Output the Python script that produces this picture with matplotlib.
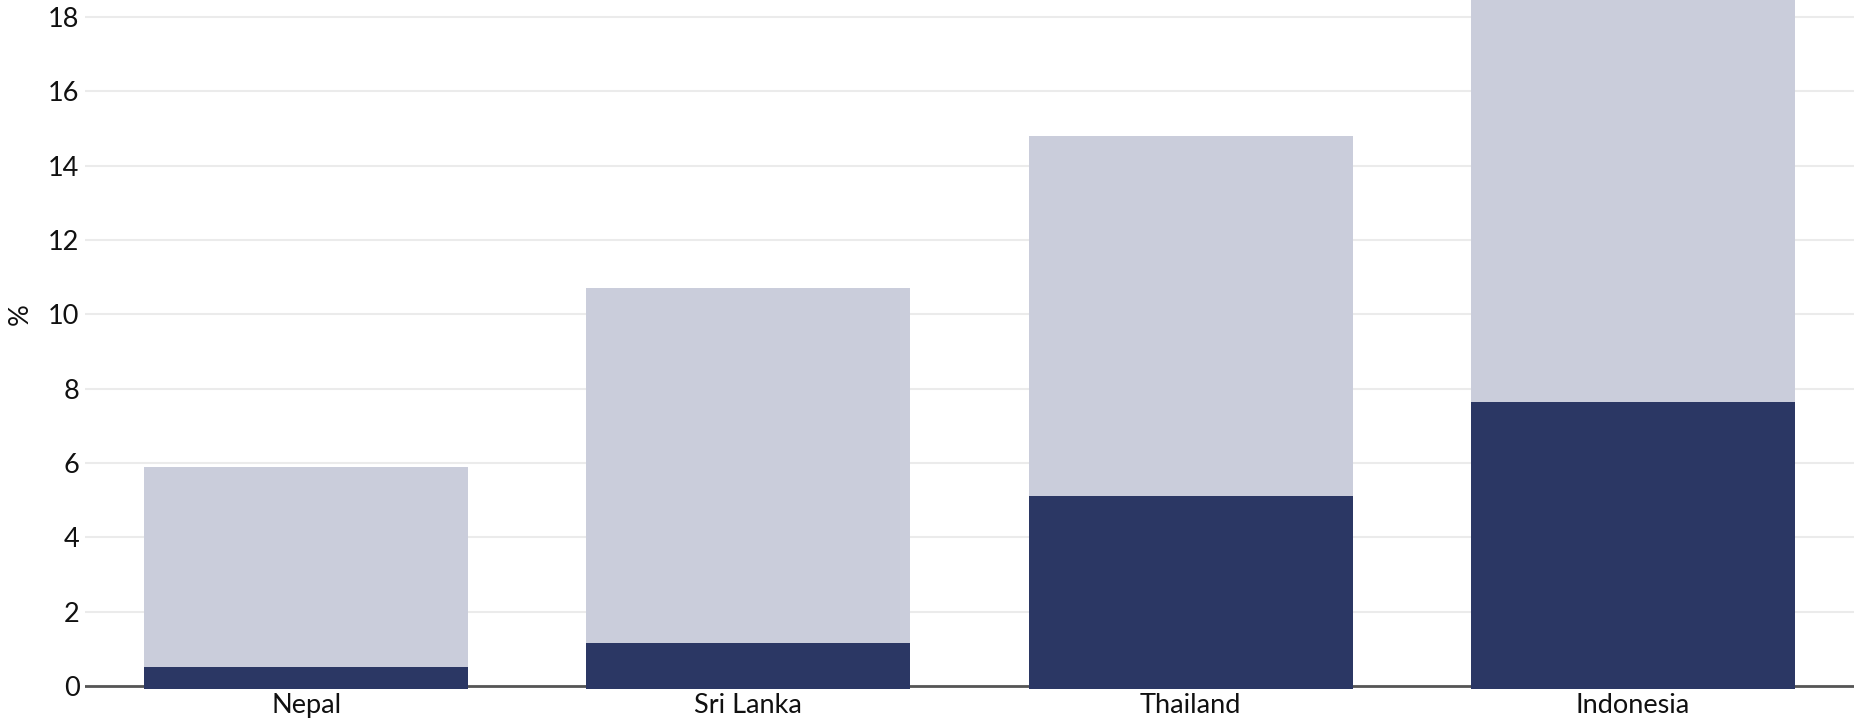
import matplotlib
matplotlib.use("Agg")
import matplotlib.pyplot as plt
from matplotlib.transforms import blended_transform_factory

categories = ["Nepal", "Sri Lanka", "Thailand", "Indonesia"]
total_values = [5.9, 10.7, 14.8, 20.5]
dark_values = [0.52, 1.15, 5.12, 7.63]
y_ticks = [0, 2, 4, 6, 8, 10, 12, 14, 16, 18]

plt.rcParams['font.family'] = ['Lato', 'DejaVu Sans']

fig = plt.figure(figsize=(18.54, 7.24), dpi=100)
ax = fig.add_axes([85/1854, 35/724, 1 - 85/1854, 1 - 35/724])

x = list(range(len(categories)))
w = 0.733
ax.bar(x, [t + 0.08 for t in total_values], bottom=-0.08, width=w, color="#cacddb", zorder=3)
ax.bar(x, [d + 0.08 for d in dark_values], bottom=-0.08, width=w, color="#2b3764", zorder=4)

ax.set_xlim(-0.5, 3.5)
ax.set_ylim(-0.08, 18.46)
ax.set_yticks(y_ticks)
ax.set_yticklabels([str(v) for v in y_ticks])
ax.set_xticks(x)
ax.set_xticklabels(categories)
ax.grid(axis="y", color="#ebebeb", linewidth=1.5, zorder=0)
ax.axhline(0, color="#555555", linewidth=2, zorder=2)
for s in ax.spines.values():
    s.set_visible(False)
ax.tick_params(axis="both", length=0, labelsize=19.5, colors="#111111")
ax.tick_params(axis="y", pad=4)
ax.tick_params(axis="x", pad=3)

trans = blended_transform_factory(fig.transFigure, ax.transData)
ax.text(20 / 1854, 10, "%", transform=trans, rotation=90, ha="center", va="center",
        fontsize=19.5, color="#111111", clip_on=False)

fig.savefig("out.png", dpi=100)
